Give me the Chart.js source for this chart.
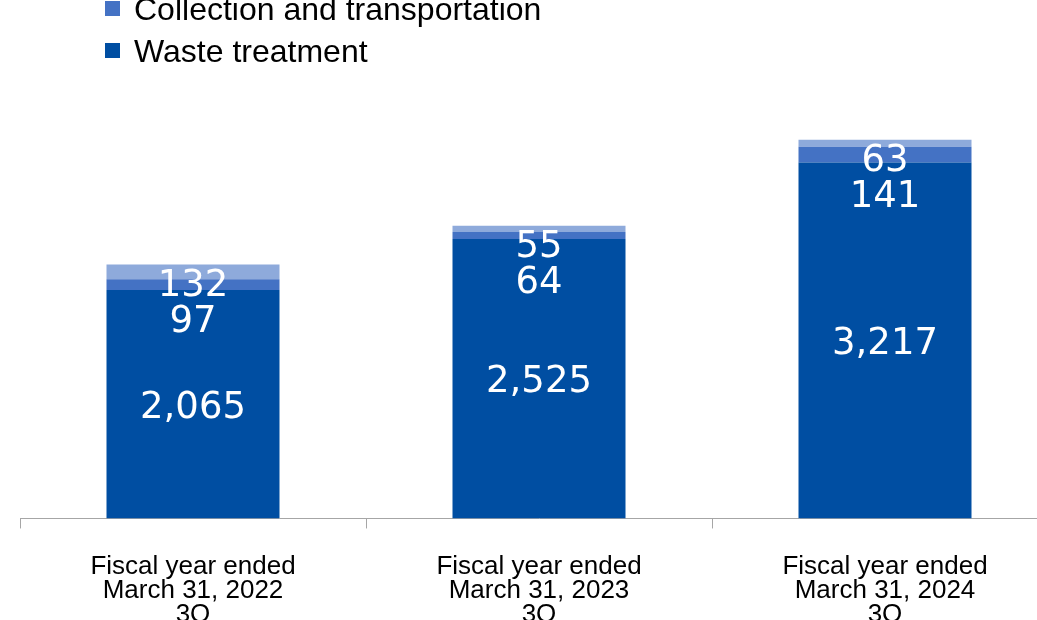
<!DOCTYPE html>
<html>
<head>
<meta charset="utf-8">
<script src="https://cdn.jsdelivr.net/npm/chart.js@4/dist/chart.umd.min.js"></script>
<style>
  html, body { margin: 0; padding: 0; background: #fff; overflow: hidden; width: 1037px; height: 620px; }
  #wrap { position: absolute; left: 0; top: 0; width: 1060px; height: 667px; }
  .legend { position: absolute; left: 105px; font-family: "Liberation Sans", Arial, sans-serif; font-size: 32px; color: #000; white-space: nowrap; }
  .legend span.box { display: inline-block; width: 15px; height: 15px; margin-right: 14px; vertical-align: middle; position: relative; top: -3px; }
</style>
</head>
<body>
<div id="wrap"><canvas id="chart"></canvas></div>
<div class="legend" style="top:-9px"><span class="box" style="background:#4472C4"></span>Collection and transportation</div>
<div class="legend" style="top:33px"><span class="box" style="background:#004EA2"></span>Waste treatment</div>
<script>
// ---- data ----
const categories = [
  ['Fiscal year ended', 'March 31, 2022', '3Q'],
  ['Fiscal year ended', 'March 31, 2023', '3Q'],
  ['Fiscal year ended', 'March 31, 2024', '3Q']
];
const wasteTreatment = [2065, 2525, 3217];
const collectionTransport = [97, 64, 141];
const otherValues = [132, 55, 63];

const COLORS = {
  waste: '#004EA2',
  collection: '#4472C4',
  other: '#8EAADB'
};

// labels drawn top-down, pushed below each other when segments are thin
const stackLabels = {
  id: 'stackLabels',
  afterDatasetsDraw(chart) {
    const ctx = chart.ctx;
    const lineGap = 36;
    ctx.save();
    ctx.font = '37px "DejaVu Sans", Verdana, sans-serif';
    ctx.fillStyle = '#fff';
    ctx.textAlign = 'center';
    ctx.textBaseline = 'middle';
    const n = chart.data.labels.length;
    for (let i = 0; i < n; i++) {
      let prevY = null;
      for (let d = chart.data.datasets.length - 1; d >= 0; d--) {
        const el = chart.getDatasetMeta(d).data[i];
        const center = (el.y + el.base) / 2;
        let y = prevY === null ? Math.max(center, el.y + 18) : Math.max(center, prevY + lineGap);
        const v = chart.data.datasets[d].data[i];
        ctx.fillText(v.toLocaleString('en-US'), el.x, y + 4);
        prevY = y;
      }
    }
    ctx.restore();
  }
};

new Chart(document.getElementById('chart'), {
  type: 'bar',
  data: {
    labels: categories,
    datasets: [
      { label: 'Waste treatment', data: wasteTreatment, backgroundColor: COLORS.waste },
      { label: 'Collection and transportation', data: collectionTransport, backgroundColor: COLORS.collection },
      { label: 'Other', data: otherValues, backgroundColor: COLORS.other }
    ]
  },
  options: {
    responsive: true,
    maintainAspectRatio: false,
    animation: false,
    layout: { padding: { left: 20, right: 2, top: 78, bottom: 14 } },
    datasets: {
      bar: { categoryPercentage: 1.0, barPercentage: 0.5 }
    },
    plugins: {
      legend: { display: false },
      tooltip: { enabled: false }
    },
    scales: {
      x: {
        stacked: true,
        offset: true,
        grid: {
          offset: true,
          drawOnChartArea: false,
          drawTicks: true,
          tickLength: 10,
          color: '#A6A6A6'
        },
        border: { color: '#A6A6A6', width: 1 },
        ticks: {
          color: '#000',
          padding: 26,
          maxRotation: 0,
          font: { family: '"Liberation Sans", Arial, sans-serif', size: 26, lineHeight: 0.93 }
        }
      },
      y: {
        stacked: true,
        display: false,
        min: 0,
        max: 3980
      }
    }
  },
  plugins: [stackLabels]
});
</script>
</body>
</html>
